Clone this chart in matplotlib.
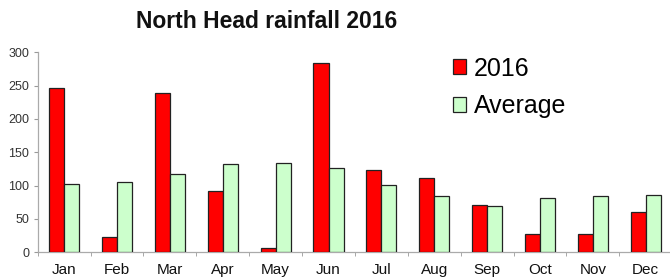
import matplotlib
matplotlib.use("Agg")
import matplotlib.pyplot as plt
import numpy as np

months = ["Jan", "Feb", "Mar", "Apr", "May", "Jun", "Jul", "Aug", "Sep", "Oct", "Nov", "Dec"]
rain_2016 = [247, 23, 239, 92, 6.5, 284, 123, 111, 71, 28, 27, 60]
rain_avg = [102, 105, 118, 133, 134, 126, 101, 84.5, 69, 81.5, 84, 85.5]
yticks = [0, 50, 100, 150, 200, 250, 300]

plt.rcParams['font.family'] = ['Liberation Sans', 'DejaVu Sans']

fig = plt.figure(figsize=(6.7, 2.78), dpi=100)
ax = fig.add_axes([37.7 / 670, (278 - 252.3) / 278, 634.5 / 670, 200 / 278])

x = np.arange(len(months))
w = 0.285
ax.bar(x - w / 2, rain_2016, width=w, color="#FF0000", edgecolor="#222222", linewidth=0.9, label="2016", zorder=3)
ax.bar(x + w / 2, rain_avg, width=w, color="#CCFFCC", edgecolor="#222222", linewidth=0.9, label="Average", zorder=3)

ax.set_xlim(-0.5, len(months) - 0.5)
ax.set_ylim(0, 300)
ax.set_yticks(yticks)
ax.set_yticklabels([str(v) for v in yticks], fontsize=9, color="#333333")
ax.set_xticks(x)
ax.set_xticklabels(months, fontsize=11, color="#111111")
ax.set_xticks(np.arange(len(months) + 1) - 0.5, minor=True)
ax.tick_params(axis="x", which="major", length=0, pad=8)
ax.tick_params(axis="x", which="minor", length=3, color="#999999", direction="out")
ax.tick_params(axis="y", length=3, color="#999999", direction="out", pad=3)

for s in ["top", "right"]:
    ax.spines[s].set_visible(False)
for s in ["left", "bottom"]:
    ax.spines[s].set_color("#AAAAAA")
    ax.spines[s].set_linewidth(0.9)

fig.text(267 / 670, 1 - 22 / 278, "North Head rainfall 2016", ha="center", va="center",
         fontsize=16.5, fontweight="bold", color="#111111")

leg = ax.legend(loc="upper left", bbox_to_anchor=(440 / 670, 1 - 44 / 278), bbox_transform=fig.transFigure,
                frameon=False, fontsize=18, handlelength=0.55, handleheight=0.55, handletextpad=0.3,
                labelspacing=0.55, borderpad=0)

fig.savefig("out.png", dpi=100)
